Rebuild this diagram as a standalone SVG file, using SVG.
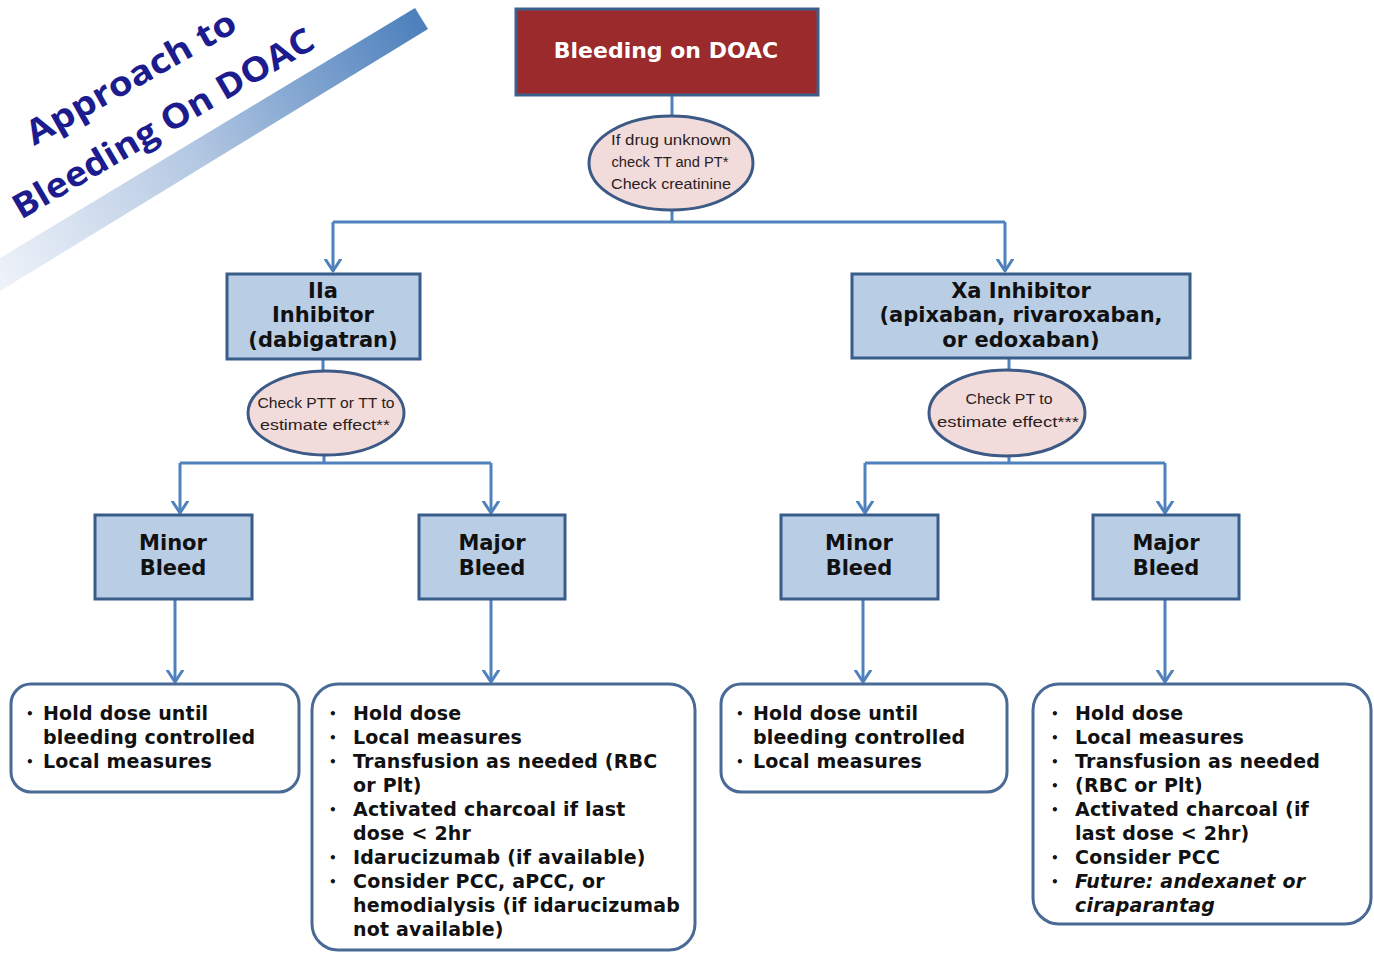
<svg xmlns="http://www.w3.org/2000/svg" width="1374" height="953" viewBox="0 0 1374 953">
  <defs>
    <linearGradient id="stripeGrad" x1="0" y1="278" x2="428" y2="18" gradientUnits="userSpaceOnUse">
      <stop offset="0" stop-color="#eef2f9"/>
      <stop offset="0.45" stop-color="#b5c9e3"/>
      <stop offset="1" stop-color="#4a7ebb"/>
    </linearGradient>
    <marker id="arrow" markerUnits="userSpaceOnUse" viewBox="0 0 14 18" markerWidth="14" markerHeight="18" refX="12.5" refY="9" orient="auto">
      <path d="M1,1.5 L12.5,9 L1,16.5" fill="none" stroke="#4f81bd" stroke-width="3" stroke-linecap="round" stroke-linejoin="round"/>
    </marker>
    <style>
      .title { font-family: "Open Sans", "Liberation Sans", sans-serif; font-weight: bold; font-size: 34px; fill: #1c1c8e; }
      .startBox { fill: #9b2a2c; stroke: #3d5f8c; stroke-width: 3; }
      .startText { font-family: "DejaVu Sans", sans-serif; font-weight: bold; font-size: 22px; fill: #ffffff; text-anchor: middle; }
      .box { fill: #b9cde5; stroke: #385d8a; stroke-width: 3; }
      .boxText { font-family: "DejaVu Sans", sans-serif; font-weight: bold; font-size: 21px; fill: #111111; text-anchor: middle; }
      .oval { fill: #f2dcdb; stroke: #3c5a85; stroke-width: 3; }
      .ovalText { font-family: "Liberation Sans", sans-serif; font-size: 15.5px; fill: #2a2020; text-anchor: middle; }
      .list { fill: #ffffff; stroke: #4a6a96; stroke-width: 3; }
      .listText { font-family: "DejaVu Sans", sans-serif; font-weight: bold; font-size: 19px; letter-spacing: 0.2px; fill: #111111; }
      .bullet { font-family: "DejaVu Sans", sans-serif; font-weight: bold; font-size: 12px; fill: #111111; }
      .ital { font-style: italic; }
      .conn { fill: none; stroke: #4f81bd; stroke-width: 3; }
    </style>
  </defs>

  <rect width="1374" height="953" fill="#ffffff"/>

  <!-- diagonal title banner -->
  <g id="title">
    <polygon points="0,258 415,8 428,29 0,291" fill="url(#stripeGrad)"/>
    <text class="title" transform="translate(34,146) rotate(-29.5)" textLength="236" lengthAdjust="spacingAndGlyphs">Approach to</text>
    <text class="title" transform="translate(21,220) rotate(-30.3)" textLength="343" lengthAdjust="spacingAndGlyphs">Bleeding On DOAC</text>
  </g>

  <!-- connectors -->
  <g id="connectors">
    <line class="conn" x1="672" y1="95" x2="672" y2="117"/>
    <path class="conn" d="M672,210 V222"/>
    <path class="conn" d="M333,222 H1005"/>
    <path class="conn" d="M333,222 V271" marker-end="url(#arrow)"/>
    <path class="conn" d="M1005,222 V271" marker-end="url(#arrow)"/>

    <line class="conn" x1="323" y1="359" x2="323" y2="372"/>
    <line class="conn" x1="1009" y1="358" x2="1009" y2="371"/>

    <path class="conn" d="M324,455 V463"/>
    <path class="conn" d="M180,463 H491"/>
    <path class="conn" d="M180,463 V513" marker-end="url(#arrow)"/>
    <path class="conn" d="M491,463 V513" marker-end="url(#arrow)"/>

    <path class="conn" d="M1009,456 V463"/>
    <path class="conn" d="M865,463 H1165"/>
    <path class="conn" d="M865,463 V513" marker-end="url(#arrow)"/>
    <path class="conn" d="M1165,463 V513" marker-end="url(#arrow)"/>

    <path class="conn" d="M175,599 V682" marker-end="url(#arrow)"/>
    <path class="conn" d="M491,599 V682" marker-end="url(#arrow)"/>
    <path class="conn" d="M863,599 V682" marker-end="url(#arrow)"/>
    <path class="conn" d="M1165,599 V682" marker-end="url(#arrow)"/>
  </g>

  <!-- start -->
  <g id="start">
    <rect class="startBox" x="516" y="9" width="302" height="86"/>
    <text class="startText" x="666" y="58">Bleeding on DOAC</text>
  </g>

  <g id="checkUnknown">
    <ellipse class="oval" cx="671" cy="163" rx="82" ry="47"/>
    <text class="ovalText" x="671" y="145" textLength="120" lengthAdjust="spacingAndGlyphs">If drug unknown</text>
    <text class="ovalText" x="670" y="167" textLength="117" lengthAdjust="spacingAndGlyphs">check TT and PT*</text>
    <text class="ovalText" x="671" y="189" textLength="120" lengthAdjust="spacingAndGlyphs">Check creatinine</text>
  </g>

  <!-- IIa branch -->
  <g id="iiaInhibitor">
    <rect class="box" x="227" y="274" width="193" height="85"/>
    <text class="boxText" x="323" y="298">IIa</text>
    <text class="boxText" x="323" y="322">Inhibitor</text>
    <text class="boxText" x="323" y="347">(dabigatran)</text>
  </g>

  <g id="checkPTT">
    <ellipse class="oval" cx="326" cy="413" rx="78" ry="42"/>
    <text class="ovalText" x="326" y="408" textLength="137" lengthAdjust="spacingAndGlyphs">Check PTT or TT to</text>
    <text class="ovalText" x="325" y="430" textLength="130" lengthAdjust="spacingAndGlyphs">estimate effect**</text>
  </g>

  <g id="iiaMinor">
    <rect class="box" x="95" y="515" width="157" height="84"/>
    <text class="boxText" x="173" y="550">Minor</text>
    <text class="boxText" x="173" y="575">Bleed</text>
  </g>

  <g id="iiaMajor">
    <rect class="box" x="419" y="515" width="146" height="84"/>
    <text class="boxText" x="492" y="550">Major</text>
    <text class="boxText" x="492" y="575">Bleed</text>
  </g>

  <g id="iiaMinorSteps">
    <rect class="list" x="11" y="684" width="288" height="108" rx="20"/>
    <text class="bullet" x="26" y="718">•</text>
    <text class="listText" x="43" y="720">Hold dose until</text>
    <text class="listText" x="43" y="744">bleeding controlled</text>
    <text class="bullet" x="26" y="766">•</text>
    <text class="listText" x="43" y="768">Local measures</text>
  </g>

  <g id="iiaMajorSteps">
    <rect class="list" x="312" y="684" width="383" height="266" rx="26"/>
    <text class="bullet" x="329" y="718">•</text>
    <text class="listText" x="353" y="720">Hold dose</text>
    <text class="bullet" x="329" y="742">•</text>
    <text class="listText" x="353" y="744">Local measures</text>
    <text class="bullet" x="329" y="766">•</text>
    <text class="listText" x="353" y="768">Transfusion as needed (RBC</text>
    <text class="listText" x="353" y="792">or Plt)</text>
    <text class="bullet" x="329" y="814">•</text>
    <text class="listText" x="353" y="816">Activated charcoal if last</text>
    <text class="listText" x="353" y="840">dose &lt; 2hr</text>
    <text class="bullet" x="329" y="862">•</text>
    <text class="listText" x="353" y="864">Idarucizumab (if available)</text>
    <text class="bullet" x="329" y="886">•</text>
    <text class="listText" x="353" y="888">Consider PCC, aPCC, or</text>
    <text class="listText" x="353" y="912">hemodialysis (if idarucizumab</text>
    <text class="listText" x="353" y="936">not available)</text>
  </g>

  <!-- Xa branch -->
  <g id="xaInhibitor">
    <rect class="box" x="852" y="274" width="338" height="84"/>
    <text class="boxText" x="1021" y="298">Xa Inhibitor</text>
    <text class="boxText" x="1021" y="322">(apixaban, rivaroxaban,</text>
    <text class="boxText" x="1021" y="347">or edoxaban)</text>
  </g>

  <g id="checkPT">
    <ellipse class="oval" cx="1007" cy="413" rx="78" ry="43"/>
    <text class="ovalText" x="1009" y="404" textLength="87" lengthAdjust="spacingAndGlyphs">Check PT to</text>
    <text class="ovalText" x="1008" y="427" textLength="142" lengthAdjust="spacingAndGlyphs">estimate effect***</text>
  </g>

  <g id="xaMinor">
    <rect class="box" x="781" y="515" width="157" height="84"/>
    <text class="boxText" x="859" y="550">Minor</text>
    <text class="boxText" x="859" y="575">Bleed</text>
  </g>

  <g id="xaMajor">
    <rect class="box" x="1093" y="515" width="146" height="84"/>
    <text class="boxText" x="1166" y="550">Major</text>
    <text class="boxText" x="1166" y="575">Bleed</text>
  </g>

  <g id="xaMinorSteps">
    <rect class="list" x="721" y="684" width="286" height="108" rx="20"/>
    <text class="bullet" x="736" y="718">•</text>
    <text class="listText" x="753" y="720">Hold dose until</text>
    <text class="listText" x="753" y="744">bleeding controlled</text>
    <text class="bullet" x="736" y="766">•</text>
    <text class="listText" x="753" y="768">Local measures</text>
  </g>

  <g id="xaMajorSteps">
    <rect class="list" x="1033" y="684" width="338" height="240" rx="26"/>
    <text class="bullet" x="1051" y="718">•</text>
    <text class="listText" x="1075" y="720">Hold dose</text>
    <text class="bullet" x="1051" y="742">•</text>
    <text class="listText" x="1075" y="744">Local measures</text>
    <text class="bullet" x="1051" y="766">•</text>
    <text class="listText" x="1075" y="768">Transfusion as needed</text>
    <text class="bullet" x="1051" y="790">•</text>
    <text class="listText" x="1075" y="792">(RBC or Plt)</text>
    <text class="bullet" x="1051" y="814">•</text>
    <text class="listText" x="1075" y="816">Activated charcoal (if</text>
    <text class="listText" x="1075" y="840">last dose &lt; 2hr)</text>
    <text class="bullet" x="1051" y="862">•</text>
    <text class="listText" x="1075" y="864">Consider PCC</text>
    <text class="bullet" x="1051" y="886">•</text>
    <text class="listText ital" x="1075" y="888">Future:  andexanet or</text>
    <text class="listText ital" x="1075" y="912">ciraparantag</text>
  </g>
</svg>
